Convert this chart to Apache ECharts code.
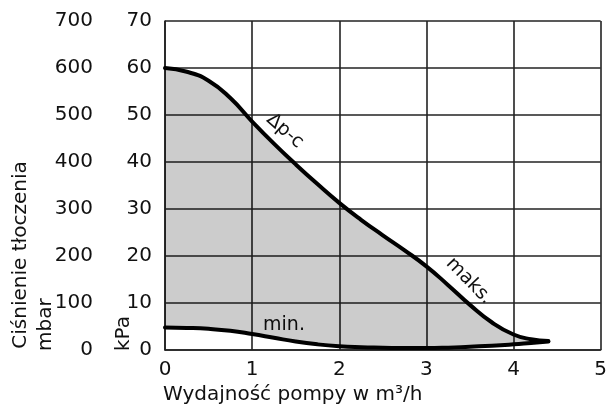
<!DOCTYPE html>
<html><head><meta charset="utf-8">
<script src="https://cdn.jsdelivr.net/npm/echarts@6/dist/echarts.min.js"></script>
<style>html,body{margin:0;padding:0;background:#fff}#c{width:610px;height:407px}</style>
</head><body><div id="c"></div>
<script>
// Flow rate (m³/h)
var flow = [0, 0.25, 0.5, 0.75, 1, 1.25, 1.5, 1.75, 2, 2.25, 2.5, 2.75, 3, 3.25, 3.5, 3.75, 4, 4.2, 4.4];
// Max curve (Δp-c, maks.) kPa
var maxKpa = [60, 59.2, 57.3, 53.6, 48.6, 43.9, 39.5, 35.3, 31.3, 27.7, 24.4, 21.2, 17.8, 13.8, 9.6, 5.9, 3.3, 2.3, 1.9];
// Min curve kPa
var minKpa = [4.8, 4.7, 4.5, 4.1, 3.4, 2.6, 1.8, 1.2, 0.8, 0.6, 0.5, 0.4, 0.4, 0.5, 0.7, 0.9, 1.2, 1.5, 1.8];
var xTicks = [0, 1, 2, 3, 4, 5];
var kpaTicks = [0, 10, 20, 30, 40, 50, 60, 70];
var mbarTicks = [0, 100, 200, 300, 400, 500, 600, 700];

var FONT = 'DejaVu Sans';
var chart = echarts.init(document.getElementById('c'));
// value first so that stacking applies to the pressure dimension
var minData = flow.map(function (x, i) { return [minKpa[i], x]; });
var bandData = flow.map(function (x, i) { return [maxKpa[i] - minKpa[i], x]; });

chart.setOption({
  animation: false,
  grid: { left: 165, right: 8, top: 21, bottom: 57 },
  xAxis: {
    type: 'value', min: xTicks[0], max: xTicks[xTicks.length - 1], interval: 1,
    axisLine: { show: true, lineStyle: { color: '#222', width: 1.6 } },
    axisTick: { show: false },
    axisLabel: { fontFamily: FONT, fontSize: 20, color: '#111', margin: 10 },
    splitLine: { show: true, lineStyle: { color: '#222', width: 1.6 } }
  },
  yAxis: [{
    type: 'value', min: kpaTicks[0], max: kpaTicks[kpaTicks.length - 1], interval: 10, position: 'left',
    axisLine: { show: true, lineStyle: { color: '#222', width: 1.6 } },
    axisTick: { show: false },
    axisLabel: { fontFamily: FONT, fontSize: 20, color: '#111', margin: 13 },
    splitLine: { show: true, lineStyle: { color: '#222', width: 1.6 } }
  }, {
    type: 'value', min: mbarTicks[0], max: mbarTicks[mbarTicks.length - 1], interval: 100, position: 'left', offset: 59,
    axisLine: { show: false }, axisTick: { show: false },
    axisLabel: { fontFamily: FONT, fontSize: 20, color: '#111', margin: 13 },
    splitLine: { show: false }
  }],
  series: [{
    type: 'line', name: 'min', data: minData, encode: { x: 1, y: 0 }, stack: 's', smooth: 0.5, symbol: 'none',
    lineStyle: { color: '#000', width: 4, cap: 'round' }, z: 3
  }, {
    type: 'line', name: 'maks', data: bandData, encode: { x: 1, y: 0 }, stack: 's', smooth: 0.5, symbol: 'none',
    lineStyle: { color: '#000', width: 4, cap: 'round' },
    areaStyle: { color: 'rgba(0,0,0,0.2)', opacity: 1 }, z: 2
  }],
  graphic: [
    { type: 'text', x: 21, y: 255, rotation: Math.PI / 2, style: { text: 'Ciśnienie tłoczenia', font: '20px "' + FONT + '"', fill: '#111', align: 'center', verticalAlign: 'middle' } },
    { type: 'text', x: 46, y: 351, rotation: Math.PI / 2, style: { text: 'mbar', font: '20px "' + FONT + '"', fill: '#111', align: 'left', verticalAlign: 'middle' } },
    { type: 'text', x: 124, y: 351, rotation: Math.PI / 2, style: { text: 'kPa', font: '20px "' + FONT + '"', fill: '#111', align: 'left', verticalAlign: 'middle' } },
    { type: 'text', x: 163, y: 395, style: { text: 'Wydajność pompy w m³/h', font: '20px "' + FONT + '"', fill: '#111', align: 'left', verticalAlign: 'middle' } },
    { type: 'text', x: 285, y: 131, rotation: -0.72, style: { text: 'Δp-c', font: '19px "' + FONT + '"', fill: '#111', align: 'center', verticalAlign: 'middle' } },
    { type: 'text', x: 469, y: 281, rotation: -0.8, style: { text: 'maks.', font: '19px "' + FONT + '"', fill: '#111', align: 'center', verticalAlign: 'middle' } },
    { type: 'text', x: 284, y: 325, style: { text: 'min.', font: '19px "' + FONT + '"', fill: '#111', align: 'center', verticalAlign: 'middle' } }
  ]
});
</script></body></html>
